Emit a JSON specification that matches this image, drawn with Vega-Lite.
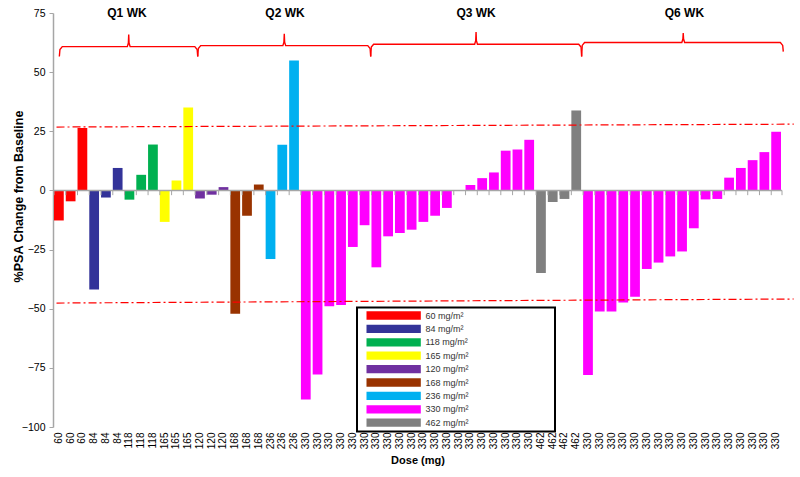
{
  "$schema": "https://vega.github.io/schema/vega-lite/v6.json",
  "width": 729,
  "height": 414,
  "autosize": {"type": "none"},
  "padding": {"left": 53, "top": 13, "right": 18, "bottom": 50},
  "config": {"font": "Liberation Sans", "view": {"stroke": null}, "axis": {"grid": false}},
  "datasets": {
    "bars": [
      {"bar": "1:60", "grp": "60 mg/m²", "pct": -12.7},
      {"bar": "2:60", "grp": "60 mg/m²", "pct": -4.6},
      {"bar": "3:60", "grp": "60 mg/m²", "pct": 26.4},
      {"bar": "4:84", "grp": "84 mg/m²", "pct": -41.9},
      {"bar": "5:84", "grp": "84 mg/m²", "pct": -3.0},
      {"bar": "6:84", "grp": "84 mg/m²", "pct": 9.5},
      {"bar": "7:118", "grp": "118 mg/m²", "pct": -3.9},
      {"bar": "8:118", "grp": "118 mg/m²", "pct": 6.6},
      {"bar": "9:118", "grp": "118 mg/m²", "pct": 19.4},
      {"bar": "10:165", "grp": "165 mg/m²", "pct": -13.3},
      {"bar": "11:165", "grp": "165 mg/m²", "pct": 4.2},
      {"bar": "12:165", "grp": "165 mg/m²", "pct": 35.1},
      {"bar": "13:120", "grp": "120 mg/m²", "pct": -3.4},
      {"bar": "14:120", "grp": "120 mg/m²", "pct": -1.8},
      {"bar": "15:120", "grp": "120 mg/m²", "pct": 1.4},
      {"bar": "16:168", "grp": "168 mg/m²", "pct": -52.1},
      {"bar": "17:168", "grp": "168 mg/m²", "pct": -10.7},
      {"bar": "18:168", "grp": "168 mg/m²", "pct": 2.5},
      {"bar": "19:236", "grp": "236 mg/m²", "pct": -29.0},
      {"bar": "20:236", "grp": "236 mg/m²", "pct": 19.3},
      {"bar": "21:236", "grp": "236 mg/m²", "pct": 54.9},
      {"bar": "22:330", "grp": "330 mg/m²", "pct": -88.4},
      {"bar": "23:330", "grp": "330 mg/m²", "pct": -77.8},
      {"bar": "24:330", "grp": "330 mg/m²", "pct": -49.0},
      {"bar": "25:330", "grp": "330 mg/m²", "pct": -48.4},
      {"bar": "26:330", "grp": "330 mg/m²", "pct": -23.9},
      {"bar": "27:330", "grp": "330 mg/m²", "pct": -14.7},
      {"bar": "28:330", "grp": "330 mg/m²", "pct": -32.5},
      {"bar": "29:330", "grp": "330 mg/m²", "pct": -19.4},
      {"bar": "30:330", "grp": "330 mg/m²", "pct": -18.0},
      {"bar": "31:330", "grp": "330 mg/m²", "pct": -16.6},
      {"bar": "32:330", "grp": "330 mg/m²", "pct": -13.3},
      {"bar": "33:330", "grp": "330 mg/m²", "pct": -10.7},
      {"bar": "34:330", "grp": "330 mg/m²", "pct": -7.4},
      {"bar": "35:330", "grp": "330 mg/m²", "pct": 0},
      {"bar": "36:330", "grp": "330 mg/m²", "pct": 2.3},
      {"bar": "37:330", "grp": "330 mg/m²", "pct": 5.2},
      {"bar": "38:330", "grp": "330 mg/m²", "pct": 7.6},
      {"bar": "39:330", "grp": "330 mg/m²", "pct": 16.8},
      {"bar": "40:330", "grp": "330 mg/m²", "pct": 17.3},
      {"bar": "41:330", "grp": "330 mg/m²", "pct": 21.4},
      {"bar": "42:462", "grp": "462 mg/m²", "pct": -34.9},
      {"bar": "43:462", "grp": "462 mg/m²", "pct": -4.9},
      {"bar": "44:462", "grp": "462 mg/m²", "pct": -3.6},
      {"bar": "45:462", "grp": "462 mg/m²", "pct": 33.8},
      {"bar": "46:330", "grp": "330 mg/m²", "pct": -78.0},
      {"bar": "47:330", "grp": "330 mg/m²", "pct": -51.2},
      {"bar": "48:330", "grp": "330 mg/m²", "pct": -51.2},
      {"bar": "49:330", "grp": "330 mg/m²", "pct": -47.4},
      {"bar": "50:330", "grp": "330 mg/m²", "pct": -44.9},
      {"bar": "51:330", "grp": "330 mg/m²", "pct": -33.2},
      {"bar": "52:330", "grp": "330 mg/m²", "pct": -30.5},
      {"bar": "53:330", "grp": "330 mg/m²", "pct": -27.9},
      {"bar": "54:330", "grp": "330 mg/m²", "pct": -25.8},
      {"bar": "55:330", "grp": "330 mg/m²", "pct": -16.0},
      {"bar": "56:330", "grp": "330 mg/m²", "pct": -3.8},
      {"bar": "57:330", "grp": "330 mg/m²", "pct": -3.6},
      {"bar": "58:330", "grp": "330 mg/m²", "pct": 5.4},
      {"bar": "59:330", "grp": "330 mg/m²", "pct": 9.5},
      {"bar": "60:330", "grp": "330 mg/m²", "pct": 12.8},
      {"bar": "61:330", "grp": "330 mg/m²", "pct": 16.2},
      {"bar": "62:330", "grp": "330 mg/m²", "pct": 24.8}
    ],
    "braces": [
      {"brace": "Q1", "k": 1, "bx": 0.54, "by": 56.6},
      {"brace": "Q1", "k": 2, "bx": 0.59, "by": 59.6},
      {"brace": "Q1", "k": 3, "bx": 0.79, "by": 60.8},
      {"brace": "Q1", "k": 4, "bx": 6.32, "by": 60.8},
      {"brace": "Q1", "k": 5, "bx": 6.41, "by": 62.3},
      {"brace": "Q1", "k": 6, "bx": 6.44, "by": 65.9},
      {"brace": "Q1", "k": 7, "bx": 6.47, "by": 62.3},
      {"brace": "Q1", "k": 8, "bx": 6.56, "by": 60.8},
      {"brace": "Q1", "k": 9, "bx": 12.06, "by": 60.8},
      {"brace": "Q1", "k": 10, "bx": 12.26, "by": 59.6},
      {"brace": "Q1", "k": 11, "bx": 12.31, "by": 56.6},
      {"brace": "Q2", "k": 1, "bx": 12.31, "by": 56.6},
      {"brace": "Q2", "k": 2, "bx": 12.36, "by": 60.0},
      {"brace": "Q2", "k": 3, "bx": 12.56, "by": 61.2},
      {"brace": "Q2", "k": 4, "bx": 19.55, "by": 61.2},
      {"brace": "Q2", "k": 5, "bx": 19.64, "by": 62.7},
      {"brace": "Q2", "k": 6, "bx": 19.67, "by": 66.2},
      {"brace": "Q2", "k": 7, "bx": 19.70, "by": 62.7},
      {"brace": "Q2", "k": 8, "bx": 19.79, "by": 61.2},
      {"brace": "Q2", "k": 9, "bx": 26.77, "by": 61.2},
      {"brace": "Q2", "k": 10, "bx": 26.97, "by": 60.0},
      {"brace": "Q2", "k": 11, "bx": 27.02, "by": 56.6},
      {"brace": "Q3", "k": 1, "bx": 27.02, "by": 56.6},
      {"brace": "Q3", "k": 2, "bx": 27.07, "by": 60.6},
      {"brace": "Q3", "k": 3, "bx": 27.27, "by": 61.8},
      {"brace": "Q3", "k": 4, "bx": 35.86, "by": 61.8},
      {"brace": "Q3", "k": 5, "bx": 35.95, "by": 63.3},
      {"brace": "Q3", "k": 6, "bx": 35.98, "by": 67.0},
      {"brace": "Q3", "k": 7, "bx": 36.01, "by": 63.3},
      {"brace": "Q3", "k": 8, "bx": 36.10, "by": 61.8},
      {"brace": "Q3", "k": 9, "bx": 44.71, "by": 61.8},
      {"brace": "Q3", "k": 10, "bx": 44.91, "by": 60.6},
      {"brace": "Q3", "k": 11, "bx": 44.96, "by": 56.6},
      {"brace": "Q6", "k": 1, "bx": 44.96, "by": 56.6},
      {"brace": "Q6", "k": 2, "bx": 45.01, "by": 61.3},
      {"brace": "Q6", "k": 3, "bx": 45.21, "by": 62.5},
      {"brace": "Q6", "k": 4, "bx": 53.48, "by": 62.5},
      {"brace": "Q6", "k": 5, "bx": 53.57, "by": 64.0},
      {"brace": "Q6", "k": 6, "bx": 53.60, "by": 66.5},
      {"brace": "Q6", "k": 7, "bx": 53.63, "by": 64.0},
      {"brace": "Q6", "k": 8, "bx": 53.72, "by": 62.5},
      {"brace": "Q6", "k": 9, "bx": 61.86, "by": 62.5},
      {"brace": "Q6", "k": 10, "bx": 62.06, "by": 61.3},
      {"brace": "Q6", "k": 11, "bx": 62.11, "by": 58.7}
    ],
    "refs": [
      {"x1": 0.3, "x2": 63.0, "y1": 26.8, "y2": 28.0},
      {"x1": 0.3, "x2": 63.0, "y1": -47.6, "y2": -45.9}
    ],
    "heads": [
      {"q": "Q1 WK", "hx": 6.29},
      {"q": "Q2 WK", "hx": 19.73},
      {"q": "Q3 WK", "hx": 35.98},
      {"q": "Q6 WK", "hx": 53.7}
    ]
  },
  "layer": [
    {
      "layer": [
        {
          "data": {"name": "bars"},
          "mark": {"type": "bar"},
          "encoding": {
            "x": {
              "field": "bar", "type": "nominal", "sort": null,
              "scale": {"paddingInner": 0.17, "paddingOuter": 0.085},
              "axis": {
                "title": "Dose (mg)", "labelAngle": -90,
                "labelExpr": "split(datum.value, ':')[1]",
                "domain": false, "ticks": false, "tickSize": 0,
                "labelPadding": 5, "labelFontSize": 10, "labelColor": "#000",
                "titleFontSize": 11, "titleFontWeight": "bold", "titleColor": "#000", "titlePadding": 6
              }
            },
            "y": {
              "field": "pct", "type": "quantitative", "title": "%PSA Change from Baseline",
              "scale": {"domain": [-100, 75], "nice": false, "zero": false},
              "axis": {
                "values": [-100, -75, -50, -25, 0, 25, 50, 75],
                "labelFontSize": 10.5, "labelColor": "#000",
                "domainColor": "#A6A6A6", "domainWidth": 1.5,
                "tickColor": "#A6A6A6", "tickSize": 4, "labelPadding": 4,
                "titleFontSize": 12.5, "titleFontWeight": "bold", "titleColor": "#000",
                "titleX": -35, "titleY": 183, "titleAlign": "center", "titleBaseline": "middle", "titleAngle": -90
              }
            },
            "color": {
              "field": "grp", "type": "nominal",
              "scale": {
                "domain": ["60 mg/m²", "84 mg/m²", "118 mg/m²", "165 mg/m²", "120 mg/m²", "168 mg/m²", "236 mg/m²", "330 mg/m²", "462 mg/m²"],
                "range": ["#FF0000", "#333399", "#00B050", "#FFFF00", "#7030A0", "#993300", "#00B0F0", "#FF00FF", "#808080"]
              },
              "legend": {
                "title": null, "orient": "none", "legendX": 304, "legendY": 294.5,
                "symbolType": "M-1,-0.92H11.07V0.92H-1Z", "symbolSize": 81, "symbolStrokeWidth": 0,
                "symbolOffset": 6, "labelOffset": 50, "rowPadding": 3.4, "padding": 3.5,
                "strokeColor": "#000", "fillColor": "#FFFFFF",
                "labelFontSize": 9, "labelColor": "#333", "labelLimit": 400,
                "labelExpr": "datum.label + '                              ⠀'",
                "encode": {"legend": {"update": {"strokeWidth": {"value": 2}}}}
              }
            }
          }
        },
        {
          "data": {"values": [{}]},
          "mark": {"type": "rule", "color": "#A6A6A6", "strokeWidth": 1.5},
          "encoding": {"y": {"datum": 0}}
        },
        {
          "data": {"name": "bars"},
          "mark": {"type": "rule", "color": "#A6A6A6", "strokeWidth": 1},
          "encoding": {
            "x": {"field": "bar", "type": "nominal", "sort": null, "bandPosition": 0},
            "y": {"datum": 0},
            "y2": {"datum": -2}
          }
        }
      ]
    },
    {
      "layer": [
        {
          "data": {"name": "refs"},
          "mark": {"type": "rule", "color": "#FF0000", "strokeWidth": 1.2, "strokeDash": [8, 3, 2, 3]},
          "encoding": {
            "x": {"field": "x1", "type": "quantitative", "scale": {"domain": [0, 62], "nice": false, "zero": false}, "axis": null},
            "x2": {"field": "x2"},
            "y": {"field": "y1", "type": "quantitative", "title": "%PSA Change from Baseline"},
            "y2": {"field": "y2"}
          }
        },
        {
          "data": {"name": "braces"},
          "mark": {"type": "line", "color": "#FF0000", "strokeWidth": 1.4},
          "encoding": {
            "x": {"field": "bx", "type": "quantitative", "axis": null},
            "y": {"field": "by", "type": "quantitative", "title": "%PSA Change from Baseline"},
            "detail": {"field": "brace"},
            "order": {"field": "k"}
          }
        },
        {
          "data": {"name": "heads"},
          "mark": {"type": "text", "fontWeight": "bold", "fontSize": 12, "color": "#000", "baseline": "middle", "align": "center"},
          "encoding": {
            "x": {"field": "hx", "type": "quantitative", "axis": null},
            "y": {"datum": 74.9},
            "text": {"field": "q"}
          }
        },
        {
          "data": {"values": [{}]},
          "mark": {"type": "rule", "color": "#A6A6A6", "strokeWidth": 1},
          "encoding": {
            "x": {"datum": 62},
            "y": {"datum": 0},
            "y2": {"datum": -2}
          }
        }
      ]
    }
  ],
  "resolve": {"scale": {"x": "independent"}}
}
